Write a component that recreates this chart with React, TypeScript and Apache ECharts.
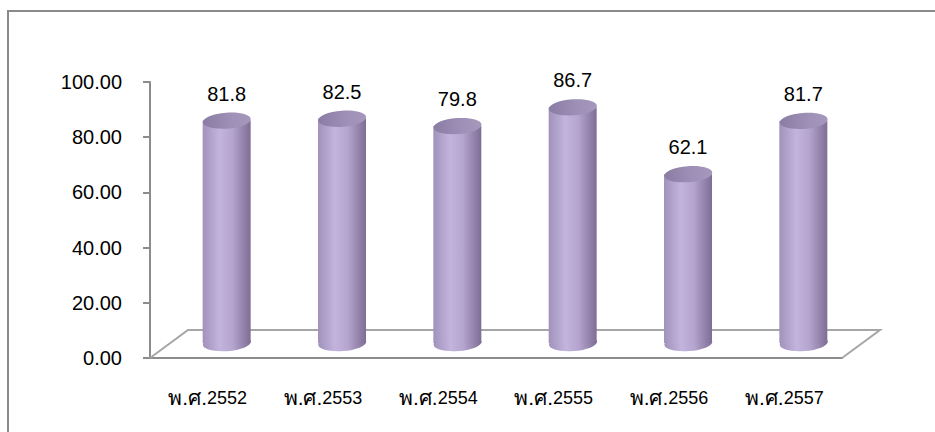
import React, { useEffect, useRef } from "react";
import * as echarts from "echarts";

const categories = ["พ.ศ.2552", "พ.ศ.2553", "พ.ศ.2554", "พ.ศ.2555", "พ.ศ.2556", "พ.ศ.2557"];
const values = [81.8, 82.5, 79.8, 86.7, 62.1, 81.7];
const yTicks = { min: 0, max: 100, interval: 20 };

const FONT = "'Liberation Sans', Arial, sans-serif";
const DEPTH_X = 38;
const DEPTH_Y = 28;

export default function App() {
  const ref = useRef<HTMLDivElement>(null);
  useEffect(() => {
    if (!ref.current) return;
    const chart = echarts.init(ref.current, null, { renderer: "svg" });
    const bodyGrad = new echarts.graphic.LinearGradient(0, 0, 1, 0, [
      { offset: 0, color: "#a192bb" },
      { offset: 0.35, color: "#c3b4dd" },
      { offset: 0.62, color: "#b4a4ce" },
      { offset: 1, color: "#7e6e95" },
    ]);
    const topGrad = new echarts.graphic.LinearGradient(0, 0, 1, 0, [
      { offset: 0, color: "#8b7ca3" },
      { offset: 0.6, color: "#9e90b6" },
      { offset: 1, color: "#a697bd" },
    ]);
    chart.setOption({
      animation: false,
      grid: { left: 150, right: 93, top: 82, bottom: 74 },
      graphic: [
        {
          type: "rect",
          shape: { x: 8, y: 11, width: 1000, height: 500 },
          style: { fill: "none", stroke: "#8a8a8a", lineWidth: 2 },
          silent: true,
        },
      ],
      xAxis: {
        type: "category",
        data: categories,
        axisLine: { lineStyle: { color: "#8c8c8c", width: 2 } },
        axisTick: { length: 8, lineStyle: { color: "#8c8c8c", width: 2 } },
        axisLabel: {
          interval: 0,
          color: "#000",
          fontSize: 18,
          fontFamily: FONT,
          margin: 29,
          formatter: (v: string) => {
            const m = v.match(/^(\D+)(\d+)$/);
            return m ? `{t|${m[1]}}{n|${m[2]}}` : v;
          },
          rich: {
            t: { fontSize: 21, fontFamily: FONT, color: "#000" },
            n: { fontSize: 18, fontFamily: FONT, color: "#000" },
          },
        },
      },
      yAxis: {
        type: "value",
        min: yTicks.min,
        max: yTicks.max,
        interval: yTicks.interval,
        splitLine: { show: false },
        axisLine: { show: true, lineStyle: { color: "#8c8c8c", width: 2 } },
        axisTick: { show: true, length: 7, lineStyle: { color: "#8c8c8c", width: 2 } },
        axisLabel: {
          color: "#000",
          fontSize: 20,
          fontFamily: FONT,
          margin: 28,
          formatter: (v: number) => v.toFixed(2),
        },
      },
      series: [
        {
          type: "custom",
          data: [0],
          z: 1,
          renderItem: (params: any, api: any) => {
            const bw = api.size([1, 0])[0];
            const c0 = api.coord([0, 0]);
            const left = c0[0] - bw / 2;
            const right = left + bw * categories.length;
            const y = c0[1];
            return {
              type: "polyline",
              shape: {
                points: [
                  [left, y],
                  [left + DEPTH_X, y - DEPTH_Y],
                  [right + DEPTH_X, y - DEPTH_Y],
                  [right, y],
                ],
              },
              style: { fill: "none", stroke: "#a6a6a6", lineWidth: 2 },
            };
          },
        },
        {
          type: "custom",
          data: values.map((v, i) => [i, v]),
          z: 2,
          renderItem: (params: any, api: any) => {
            const idx = api.value(0);
            const val = api.value(1);
            const base = api.coord([idx, 0]);
            const topC = api.coord([idx, val]);
            const cx = base[0] + DEPTH_X / 2;
            const by = base[1] - 15;
            const ty = by - (base[1] - topC[1]) * 0.985;
            const rx = 24;
            const ry = 8;
            const rot = 0.07;
            return {
              type: "group",
              children: [
                {
                  type: "ellipse",
                  shape: { cx, cy: by, rx, ry },
                  originX: cx,
                  originY: by,
                  rotation: rot,
                  style: { fill: bodyGrad },
                },
                {
                  type: "rect",
                  shape: { x: cx - rx, y: ty, width: rx * 2, height: by - ty },
                  style: { fill: bodyGrad },
                },
                {
                  type: "ellipse",
                  shape: { cx, cy: ty, rx, ry },
                  originX: cx,
                  originY: ty,
                  rotation: rot,
                  style: { fill: topGrad },
                },
                {
                  type: "text",
                  x: cx,
                  y: ty - 27,
                  style: {
                    text: val.toFixed(1),
                    fill: "#000",
                    font: `20px ${FONT}`,
                    align: "center",
                    verticalAlign: "middle",
                  },
                },
              ],
            };
          },
        },
      ],
    });
    return () => chart.dispose();
  }, []);
  return (
    <div
      ref={ref}
      style={{ position: "fixed", left: 0, top: 0, width: 935, height: 432, background: "#fff" }}
    />
  );
}
